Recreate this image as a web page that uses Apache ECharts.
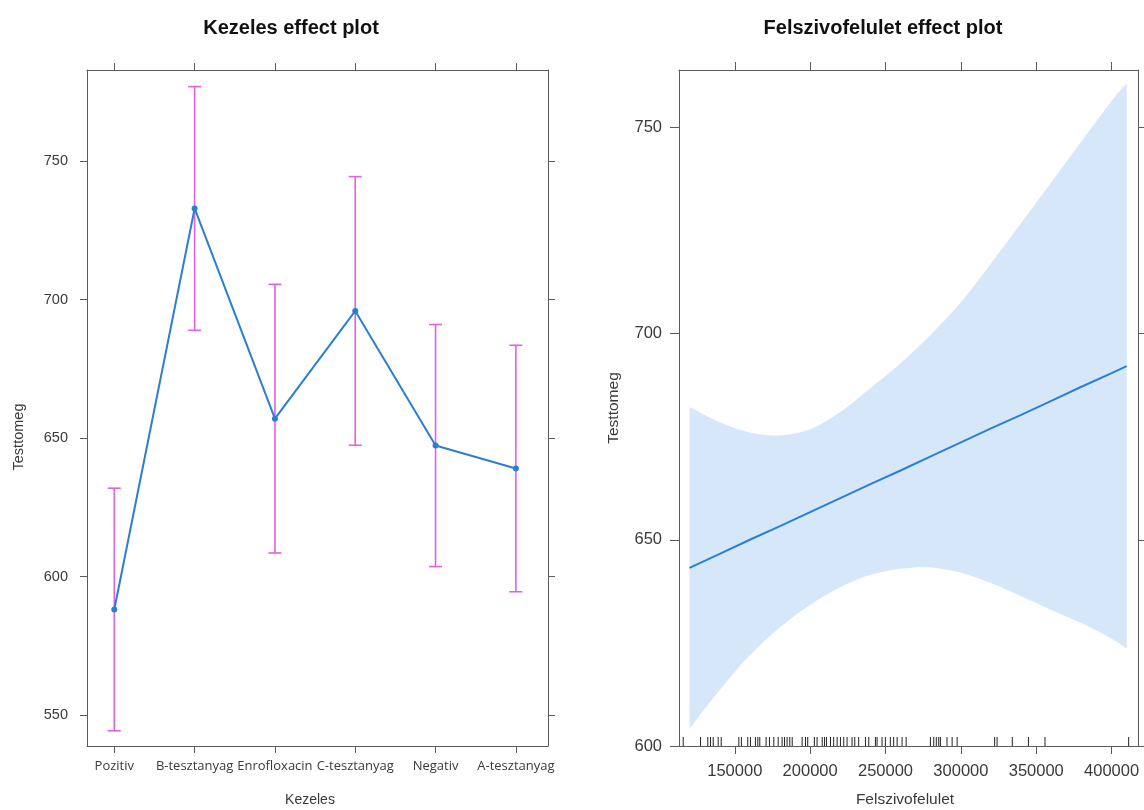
<!DOCTYPE html>
<html>
<head>
<meta charset="utf-8">
<title>Effect plots</title>
<script src="https://cdn.jsdelivr.net/npm/echarts@6/dist/echarts.min.js"></script>
<style>
  html, body { margin: 0; padding: 0; background: #ffffff; }
  #chart { width: 1144px; height: 810px; }
</style>
</head>
<body>
<div id="chart"></div>
<script>
// Treatment effect (factor) panel
const categories = ['Pozitiv', 'B-tesztanyag', 'Enrofloxacin', 'C-tesztanyag', 'Negativ', 'A-tesztanyag'];
const effectFit   = [588.1, 732.9, 657.0, 695.9, 647.3, 639.0];
const effectLower = [544.3, 688.9, 608.5, 647.4, 603.6, 594.5];
const effectUpper = [631.9, 776.9, 705.5, 744.4, 691.0, 683.5];
const leftYTicks  = [550, 600, 650, 700, 750];

// Absorptive surface (numeric) panel
const surfaceX     = [120000, 140000, 160000, 180000, 200000, 220000, 240000, 260000, 280000, 300000, 320000, 340000, 360000, 380000, 400000, 410000];
const surfaceFit   = [643.2, 646.6, 650.0, 653.3, 656.7, 660.1, 663.5, 666.8, 670.2, 673.6, 677.0, 680.3, 683.7, 687.1, 690.4, 692.1];
const surfaceUpper = [682.2, 678.5, 676.0, 675.3, 676.8, 681.0, 686.8, 692.8, 699.7, 707.6, 717.0, 726.8, 736.7, 746.6, 756.4, 760.6];
const surfaceLower = [604.2, 613.6, 622.0, 628.8, 634.2, 638.5, 641.5, 643.0, 643.3, 642.0, 639.5, 636.3, 633.0, 629.8, 626.0, 623.6];
const rugX = [115800, 127300, 132100, 133900, 135700, 139000, 141000, 152700, 154400, 158600, 160400, 163700, 165300, 166600,
  170800, 173000, 175900, 178800, 181400, 183000, 184700, 186500, 188100, 194700, 196900, 198400, 202800, 204600, 208000,
  209500, 210800, 213500, 215600, 217900, 220100, 222300, 224500, 227800, 229600, 232200, 236700, 238900, 243300, 244400,
  247700, 249900, 253200, 255400, 257700, 261000, 263700, 279800, 282000, 283700, 285300, 286400, 290800, 294200, 297500,
  322400, 324000, 334100, 344800, 355800, 411300];
const rightXTicks = [150000, 200000, 250000, 300000, 350000, 400000];
const rightYTicks = [600, 650, 700, 750];

const FRAME = '#5a5a5a';
const LABEL = '#3a3a3a';
const LINE_BLUE = '#2a7fd4';
const BAR_MAGENTA = '#e35fe3';
const BAND_BLUE = '#d5e7f9';

function frameAxis(extra) {
  const base = {
    type: 'value',
    axisLine: { show: true, onZero: false, lineStyle: { color: FRAME, width: 1 } },
    axisTick: { show: true, length: 7, lineStyle: { color: FRAME, width: 1 } },
    axisLabel: { show: false },
    splitLine: { show: false }
  };
  return Object.assign(base, extra);
}

// Smooth path through pixel points (Catmull-Rom segments as cubic Beziers)
function curveSegments(pts) {
  let d = '';
  for (let i = 0; i < pts.length - 1; i++) {
    const p0 = pts[Math.max(i - 1, 0)];
    const p1 = pts[i];
    const p2 = pts[i + 1];
    const p3 = pts[Math.min(i + 2, pts.length - 1)];
    const c1x = p1[0] + (p2[0] - p0[0]) / 6, c1y = p1[1] + (p2[1] - p0[1]) / 6;
    const c2x = p2[0] - (p3[0] - p1[0]) / 6, c2y = p2[1] - (p3[1] - p1[1]) / 6;
    d += ' C' + c1x + ' ' + c1y + ' ' + c2x + ' ' + c2y + ' ' + p2[0] + ' ' + p2[1];
  }
  return d;
}

const chart = echarts.init(document.getElementById('chart'), null, { renderer: 'canvas' });

const option = {
  backgroundColor: '#ffffff',
  animation: false,
  grid: [
    { left: 87, top: 70, width: 461, height: 676 },
    { left: 679, top: 70, width: 459, height: 676 }
  ],
  xAxis: [
    frameAxis({
      gridIndex: 0, position: 'bottom', min: 0.66, max: 6.4,
      axisTick: { show: true, length: 7, lineStyle: { color: FRAME }, customValues: categories.map((c, i) => i + 1) },
      axisLabel: {
        show: true, margin: 14, color: LABEL, fontFamily: '"Open Sans"', fontSize: 13,
        customValues: categories.map((c, i) => i + 1),
        formatter: v => categories[Math.round(v) - 1]
      }
    }),
    frameAxis({
      gridIndex: 0, position: 'top', min: 0.66, max: 6.4,
      axisTick: { show: true, length: 7, lineStyle: { color: FRAME }, customValues: categories.map((c, i) => i + 1) }
    }),
    frameAxis({
      gridIndex: 1, position: 'bottom', min: 113000, max: 417500,
      axisTick: { show: true, length: 8, lineStyle: { color: FRAME }, customValues: rightXTicks },
      axisLabel: {
        show: true, margin: 17, color: LABEL, fontFamily: '"Liberation Sans"', fontSize: 16.5,
        customValues: rightXTicks,
        formatter: v => String(v)
      }
    }),
    frameAxis({
      gridIndex: 1, position: 'top', min: 113000, max: 417500,
      axisTick: { show: true, length: 8, lineStyle: { color: FRAME }, customValues: rightXTicks }
    })
  ],
  yAxis: [
    frameAxis({
      gridIndex: 0, position: 'left', min: 538.8, max: 782.9,
      axisTick: { show: true, length: 7, lineStyle: { color: FRAME }, customValues: leftYTicks },
      axisLabel: {
        show: true, margin: 19, color: LABEL, fontFamily: '"Liberation Sans"', fontSize: 14.5,
        customValues: leftYTicks
      }
    }),
    frameAxis({
      gridIndex: 0, position: 'right', min: 538.8, max: 782.9,
      axisTick: { show: true, length: 7, lineStyle: { color: FRAME }, customValues: leftYTicks }
    }),
    frameAxis({
      gridIndex: 1, position: 'left', min: 600, max: 763.9,
      axisTick: { show: true, length: 9, lineStyle: { color: FRAME }, customValues: rightYTicks },
      axisLabel: {
        show: true, margin: 17, color: LABEL, fontFamily: '"Liberation Sans"', fontSize: 16.5,
        customValues: rightYTicks
      }
    }),
    frameAxis({
      gridIndex: 1, position: 'right', min: 600, max: 763.9,
      axisTick: { show: true, length: 9, lineStyle: { color: FRAME }, customValues: rightYTicks }
    })
  ],
  graphic: [
    { type: 'text', x: 291, y: 28, style: { text: 'Kezeles effect plot', font: 'bold 20px "Liberation Sans"', fill: '#111', align: 'center', verticalAlign: 'middle' } },
    { type: 'text', x: 883, y: 28, style: { text: 'Felszivofelulet effect plot', font: 'bold 20px "Liberation Sans"', fill: '#111', align: 'center', verticalAlign: 'middle' } },
    { type: 'text', x: 310, y: 800, style: { text: 'Kezeles', font: '14px "Liberation Sans"', fill: LABEL, align: 'center', verticalAlign: 'middle' } },
    { type: 'text', x: 905, y: 800, style: { text: 'Felszivofelulet', font: '15.5px "Liberation Sans"', fill: LABEL, align: 'center', verticalAlign: 'middle' } },
    { type: 'text', x: 19, y: 437, rotation: Math.PI / 2, style: { text: 'Testtomeg', font: '14.5px "Liberation Sans"', fill: LABEL, align: 'center', verticalAlign: 'middle' } },
    { type: 'text', x: 614, y: 408, rotation: Math.PI / 2, style: { text: 'Testtomeg', font: '15.5px "Liberation Sans"', fill: LABEL, align: 'center', verticalAlign: 'middle' } }
  ],
  series: [
    // confidence bars for each treatment
    {
      type: 'custom',
      xAxisIndex: 0, yAxisIndex: 0,
      data: categories.map((c, i) => [i + 1, effectLower[i], effectUpper[i]]),
      encode: { x: 0, y: [1, 2] },
      renderItem: function (params, api) {
        const lo = api.coord([api.value(0), api.value(1)]);
        const hi = api.coord([api.value(0), api.value(2)]);
        const cap = 6.5;
        const style = { stroke: BAR_MAGENTA, lineWidth: 1.6 };
        return {
          type: 'group',
          children: [
            { type: 'line', shape: { x1: lo[0], y1: lo[1], x2: hi[0], y2: hi[1] }, style: style },
            { type: 'line', shape: { x1: lo[0] - cap, y1: lo[1], x2: lo[0] + cap, y2: lo[1] }, style: style },
            { type: 'line', shape: { x1: hi[0] - cap, y1: hi[1], x2: hi[0] + cap, y2: hi[1] }, style: style }
          ]
        };
      },
      z: 2
    },
    {
      type: 'line',
      xAxisIndex: 0, yAxisIndex: 0,
      data: categories.map((c, i) => [i + 1, effectFit[i]]),
      symbol: 'circle', symbolSize: 6,
      itemStyle: { color: LINE_BLUE },
      lineStyle: { color: LINE_BLUE, width: 2 },
      z: 3
    },
    // confidence band around the fitted line
    {
      type: 'custom',
      xAxisIndex: 2, yAxisIndex: 2,
      data: [[surfaceX[0], surfaceLower[0]]],
      encode: { x: 0, y: 1 },
      renderItem: function (params, api) {
        const up = surfaceX.map((x, i) => api.coord([x, surfaceUpper[i]]));
        const lo = surfaceX.map((x, i) => api.coord([x, surfaceLower[i]])).reverse();
        const d = 'M' + up[0][0] + ' ' + up[0][1] + curveSegments(up) +
          ' L' + lo[0][0] + ' ' + lo[0][1] + curveSegments(lo) + ' Z';
        return {
          type: 'path',
          shape: { pathData: d },
          style: { fill: BAND_BLUE, stroke: null }
        };
      },
      z: 1
    },
    {
      type: 'line',
      xAxisIndex: 2, yAxisIndex: 2,
      data: surfaceX.map((x, i) => [x, surfaceFit[i]]),
      symbol: 'none',
      lineStyle: { color: LINE_BLUE, width: 2 },
      z: 3
    },
    // rug of observed values
    {
      type: 'custom',
      xAxisIndex: 2, yAxisIndex: 2,
      data: rugX.map(x => [x, 600]),
      encode: { x: 0, y: 1 },
      renderItem: function (params, api) {
        const p = api.coord([api.value(0), api.value(1)]);
        return {
          type: 'line',
          shape: { x1: p[0], y1: p[1], x2: p[0], y2: p[1] - 9 },
          style: { stroke: '#222', lineWidth: 1 }
        };
      },
      z: 4
    }
  ]
};

chart.setOption(option);
</script>
</body>
</html>
